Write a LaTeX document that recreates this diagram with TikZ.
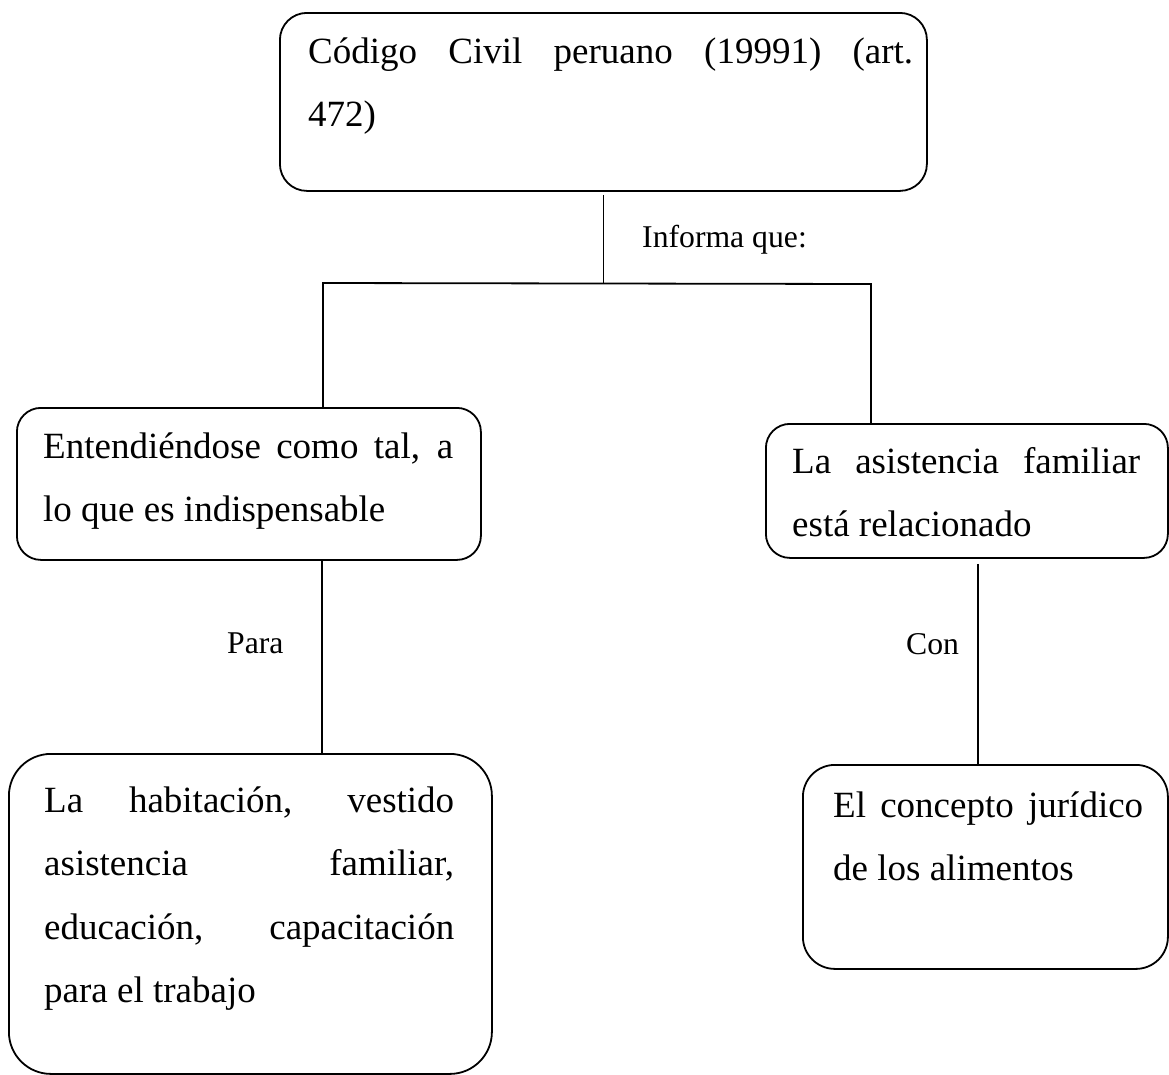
\documentclass[tikz,border=0pt]{standalone}
\usepackage{fontspec}
\setmainfont{Liberation Serif}
\newcommand{\boxtext}[2]{\parbox[t]{#1}{\fontsize{37}{63.5}\selectfont #2}}
\newcommand{\jl}[1]{\makebox[\linewidth][s]{#1}}
\tikzset{
  boxnode/.style={draw, line width=1.8pt, rounded corners=#1, inner sep=0pt, anchor=north west},
  txt/.style={anchor=base west, inner sep=0pt},
  lbl/.style={anchor=base west, inner sep=0pt, font=\fontsize{31.7}{38}\selectfont},
  link/.style={line width=1.8pt}
}
\begin{document}
\begin{tikzpicture}[x=1pt,y=-1pt]
\useasboundingbox (0,0) rectangle (1169,1074);

% boxes
\node[boxnode=27, minimum width=647, minimum height=178] (top) at (279,12) {};
\node[boxnode=24, minimum width=464, minimum height=152] (midl) at (16,407) {};
\node[boxnode=24, minimum width=402, minimum height=134] (midr) at (765,423) {};
\node[boxnode=42, minimum width=483, minimum height=320] (botl) at (8,753) {};
\node[boxnode=32, minimum width=365, minimum height=204] (botr) at (802,764) {};

% box texts
\node[txt] (toptext) at (308,63) {\boxtext{605pt}{\jl{Código Civil peruano (19991) (art.}\par 472)}};
\node[txt] (midltext) at (43,458) {\boxtext{410pt}{\jl{Entendiéndose como tal, a}\par lo que es indispensable}};
\node[txt] (midrtext) at (792,473) {\boxtext{348pt}{\jl{La asistencia familiar}\par está relacionado}};
\node[txt] (botltext) at (44,812) {\boxtext{410pt}{\jl{La habitación, vestido}\par \jl{asistencia familiar,}\par \jl{educación, capacitación}\par para el trabajo}};
\node[txt] (botrtext) at (833,817) {\boxtext{310pt}{\jl{El concepto jurídico}\par de los alimentos}};

% junction coordinates
\coordinate (j) at (603,283);
\coordinate (jl) at (323,283);
\coordinate (jr) at (871,284);
\coordinate (pl) at (322,0);
\coordinate (pr) at (978,0);

% connectors
\draw[link, shorten <=3pt] (top.south) -- (top.south |- j);
\draw[link] (midl.north -| jl) -- (jl) -- (jr) -- (midr.north -| jr);
\draw[link] (midl.south -| pl) -- (botl.north -| pl);
\draw[link, shorten <=5pt] (midr.south -| pr) -- (botr.north -| pr);

% labels
\node[lbl] (informa) at (642,247) {Informa que:};
\node[lbl] (para) at (227,653) {Para};
\node[lbl] (con) at (906,654) {Con};
\end{tikzpicture}
\end{document}
